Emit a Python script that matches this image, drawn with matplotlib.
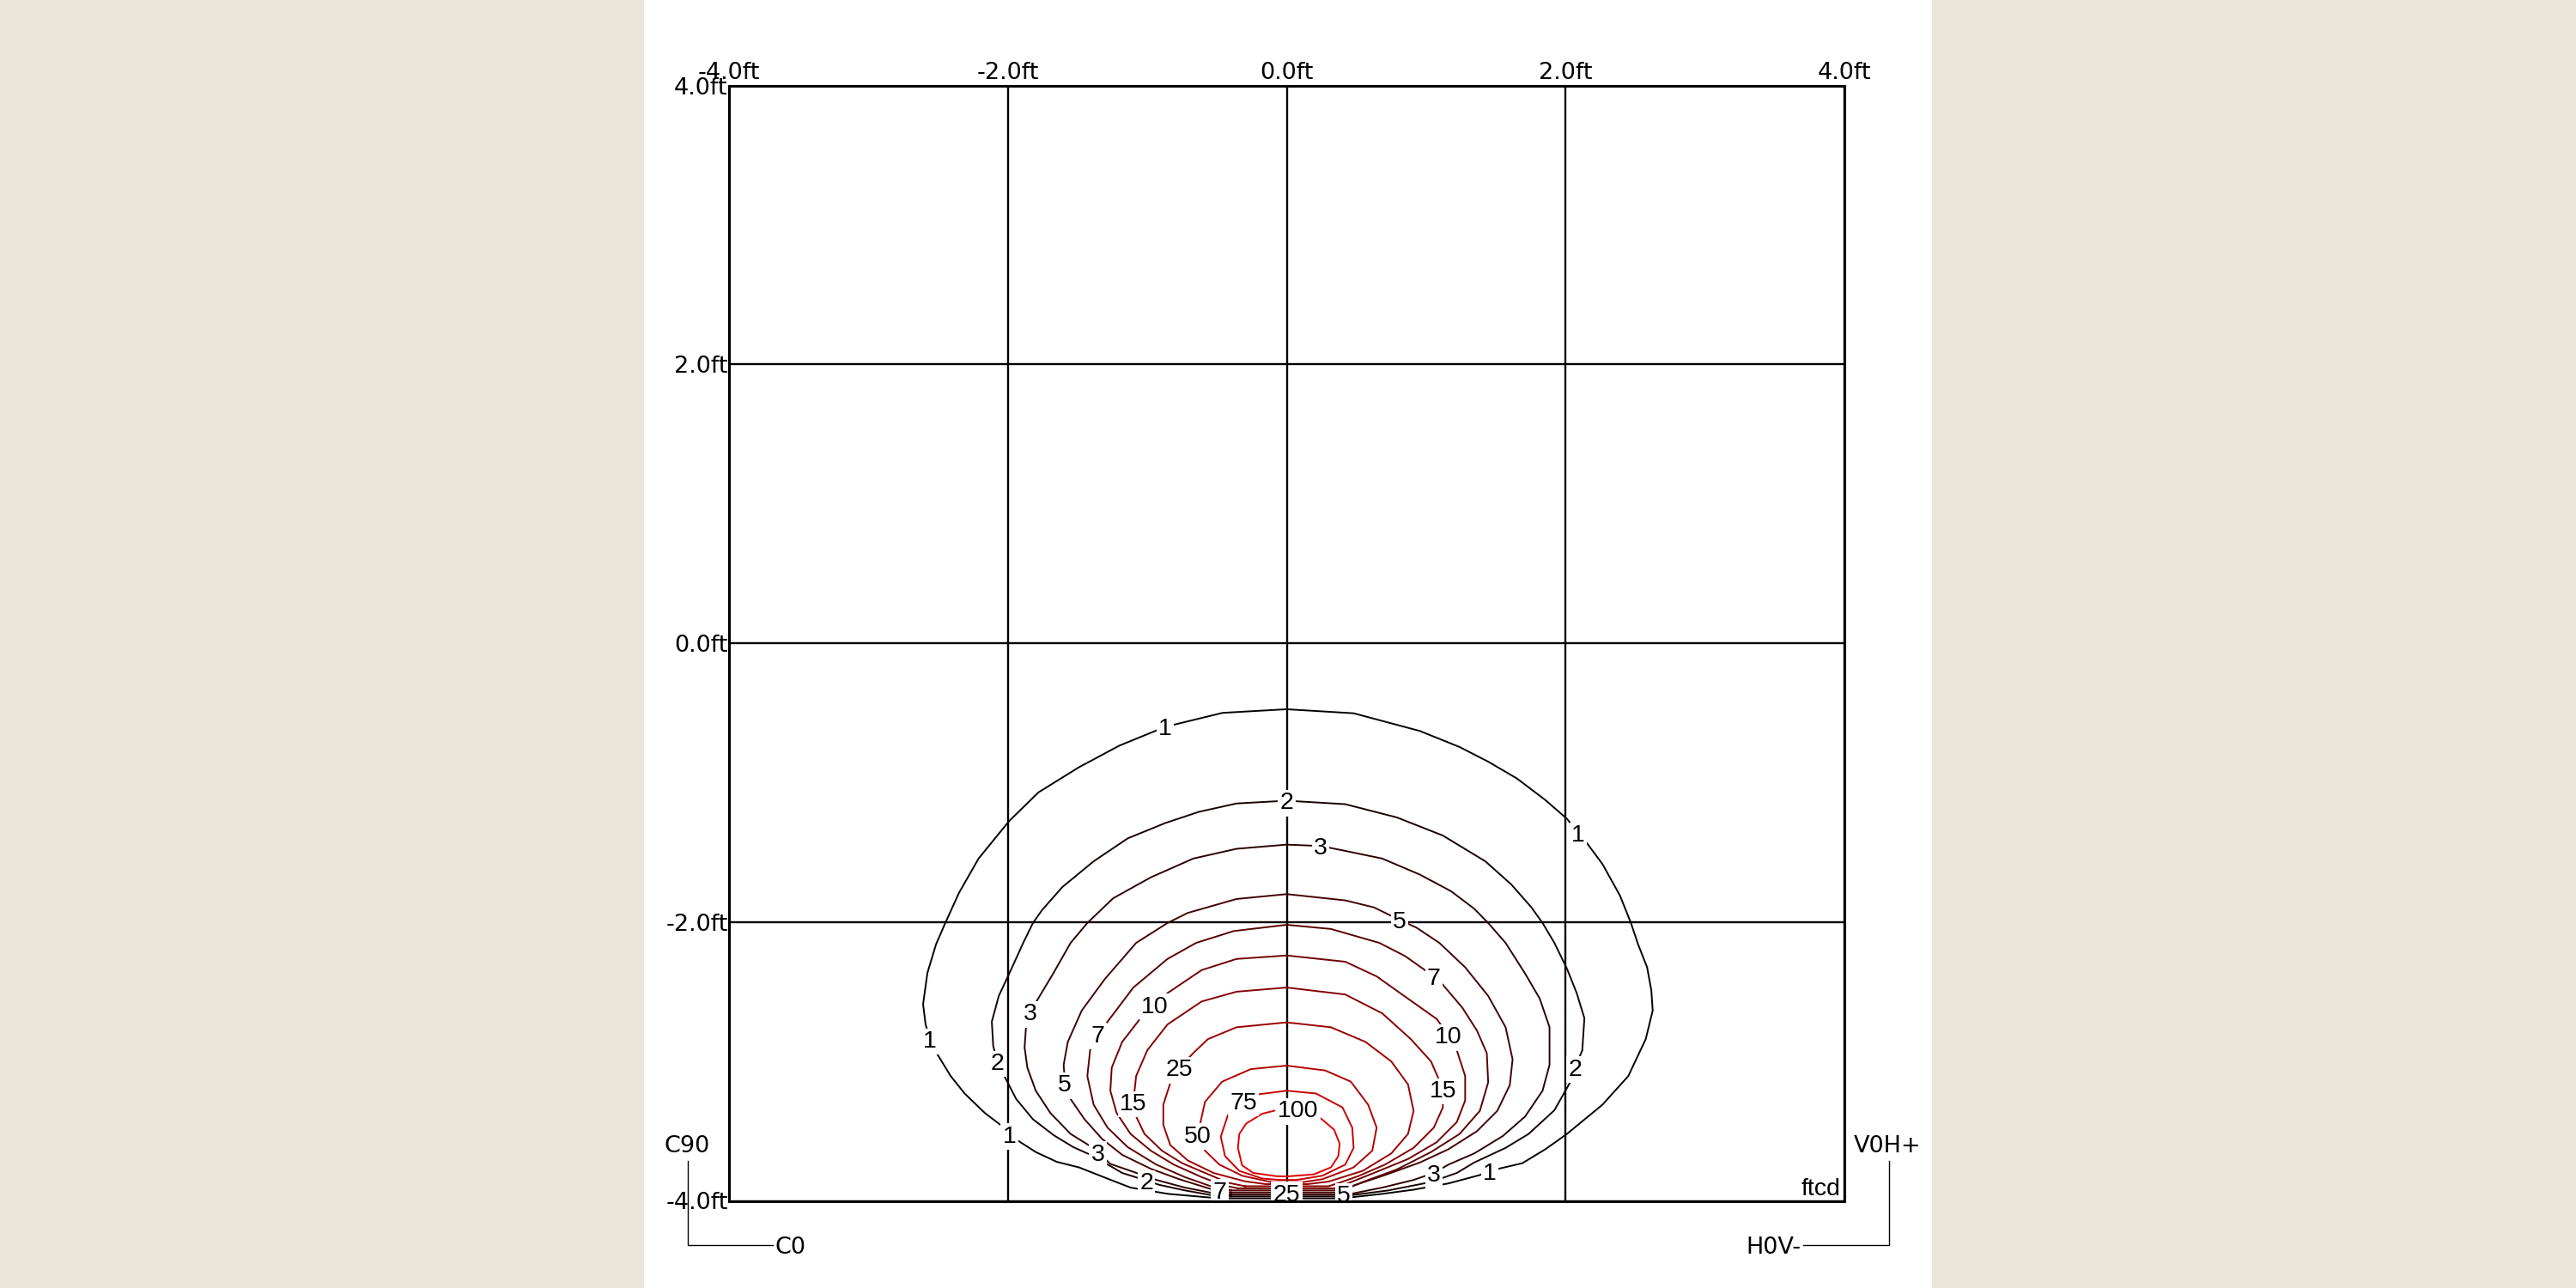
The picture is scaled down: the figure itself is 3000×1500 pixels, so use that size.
import numpy as np
import matplotlib
matplotlib.use("Agg")
import matplotlib.pyplot as plt
from matplotlib.patches import Rectangle

plt.rcParams['font.family'] = ['Liberation Sans', 'DejaVu Sans']
WIDE = ['DejaVu Sans']

# ---------------- data (feet) ----------------
levels = [1, 2, 3, 5, 7, 10, 15, 25, 50, 75, 100]
tick_values = [-4.0, -2.0, 0.0, 2.0, 4.0]
tick_labels = ["-4.0ft", "-2.0ft", "0.0ft", "2.0ft", "4.0ft"]

# each isoline: left branch (top -> bottom) and right branch (top -> bottom)
iso1_left = [(0, -0.474), (-0.46, -0.50), (-0.87, -0.60), (-1.20, -0.735), (-1.49, -0.89), (-1.78, -1.07),
             (-1.99, -1.275), (-2.21, -1.545), (-2.35, -1.79), (-2.45, -2.01), (-2.515, -2.16), (-2.577, -2.365),
             (-2.608, -2.59), (-2.59, -2.735), (-2.56, -2.84), (-2.505, -2.95), (-2.41, -3.105), (-2.31, -3.23),
             (-2.165, -3.37), (-2.04, -3.465), (-1.94, -3.56), (-1.80, -3.65), (-1.65, -3.72), (-1.49, -3.76),
             (-1.325, -3.825), (-1.12, -3.905), (-0.85, -3.95), (-0.565, -3.975), (-0.45, -3.982)]
iso1_right = [(0, -0.474), (0.48, -0.503), (0.955, -0.63), (1.24, -0.745), (1.445, -0.85), (1.65, -0.97),
              (1.855, -1.125), (2.01, -1.26), (2.09, -1.36), (2.15, -1.43), (2.265, -1.585), (2.39, -1.81),
              (2.47, -2.01), (2.52, -2.16), (2.585, -2.325), (2.615, -2.49), (2.625, -2.635), (2.575, -2.84),
              (2.45, -3.105), (2.265, -3.31), (2.01, -3.52), (1.855, -3.63), (1.69, -3.73), (1.455, -3.785),
              (1.385, -3.815), (1.16, -3.875), (0.91, -3.92), (0.685, -3.95), (0.46, -3.975), (0.40, -3.982)]

iso2_left = [(0, -1.13), (-0.36, -1.15), (-0.63, -1.21), (-0.87, -1.29), (-1.14, -1.40), (-1.385, -1.565),
             (-1.61, -1.75), (-1.755, -1.915), (-1.82, -2.007), (-1.89, -2.15), (-1.99, -2.37), (-2.065, -2.53),
             (-2.115, -2.715), (-2.105, -2.89), (-2.075, -3.00), (-2.02, -3.115), (-1.94, -3.27), (-1.82, -3.415),
             (-1.67, -3.53), (-1.53, -3.615), (-1.385, -3.68), (-1.18, -3.80), (-1.005, -3.855), (-0.915, -3.885),
             (-0.73, -3.925), (-0.525, -3.962), (-0.40, -3.968)]
iso2_right = [(0, -1.13), (0.42, -1.155), (0.79, -1.25), (1.12, -1.38), (1.425, -1.565), (1.61, -1.73),
              (1.755, -1.895), (1.835, -2.007), (1.92, -2.15), (2.01, -2.335), (2.08, -2.51), (2.135, -2.69),
              (2.12, -2.92), (2.07, -3.04), (2.03, -3.155), (1.92, -3.35), (1.735, -3.52), (1.57, -3.62),
              (1.345, -3.725), (1.22, -3.80), (1.035, -3.865), (0.73, -3.925), (0.46, -3.96), (0.38, -3.968)]

iso3_left = [(0, -1.445), (-0.36, -1.475), (-0.67, -1.545), (-0.975, -1.68), (-1.245, -1.83), (-1.43, -2.007),
             (-1.55, -2.15), (-1.675, -2.37), (-1.84, -2.645), (-1.87, -2.755), (-1.88, -2.90), (-1.86, -3.045),
             (-1.80, -3.21), (-1.695, -3.37), (-1.55, -3.52), (-1.405, -3.61), (-1.355, -3.65), (-1.265, -3.735),
             (-1.12, -3.785), (-0.935, -3.85), (-0.73, -3.905), (-0.525, -3.945), (-0.40, -3.955)]
iso3_right = [(0, -1.445), (0.245, -1.455), (0.42, -1.49), (0.685, -1.545), (0.955, -1.66), (1.18, -1.78),
              (1.345, -1.905), (1.445, -2.007), (1.57, -2.15), (1.71, -2.37), (1.815, -2.55), (1.885, -2.755),
              (1.885, -3.025), (1.835, -3.21), (1.71, -3.395), (1.55, -3.535), (1.345, -3.66), (1.16, -3.74),
              (1.055, -3.80), (0.91, -3.85), (0.685, -3.905), (0.46, -3.95), (0.38, -3.955)]

iso5_left = [(0, -1.80), (-0.36, -1.835), (-0.71, -1.935), (-0.855, -2.007), (-1.08, -2.15), (-1.305, -2.41),
             (-1.47, -2.635), (-1.57, -2.86), (-1.60, -3.025), (-1.59, -3.155), (-1.55, -3.27), (-1.45, -3.415),
             (-1.325, -3.555), (-1.18, -3.67), (-0.975, -3.77), (-0.77, -3.845), (-0.545, -3.915), (-0.40, -3.94)]
iso5_right = [(0, -1.80), (0.42, -1.845), (0.625, -1.895), (0.81, -1.985), (0.93, -2.04), (1.095, -2.15),
              (1.28, -2.325), (1.445, -2.53), (1.57, -2.755), (1.62, -2.985), (1.60, -3.17), (1.51, -3.355),
              (1.365, -3.50), (1.16, -3.63), (0.955, -3.725), (0.705, -3.815), (0.48, -3.89), (0.38, -3.94)]

iso7_left = [(0, -2.02), (-0.38, -2.065), (-0.65, -2.15), (-0.855, -2.265), (-1.10, -2.47), (-1.285, -2.715),
             (-1.355, -2.80), (-1.41, -2.92), (-1.43, -3.105), (-1.385, -3.31), (-1.285, -3.475), (-1.14, -3.615),
             (-0.935, -3.74), (-0.73, -3.83), (-0.545, -3.895), (-0.40, -3.925)]
iso7_right = [(0, -2.02), (0.317, -2.05), (0.665, -2.15), (0.85, -2.245), (1.055, -2.39), (1.12, -2.45),
              (1.26, -2.615), (1.365, -2.78), (1.435, -2.94), (1.445, -3.15), (1.385, -3.355), (1.24, -3.52),
              (1.035, -3.65), (0.79, -3.775), (0.545, -3.865), (0.40, -3.925)]

iso10_left = [(0, -2.24), (-0.36, -2.265), (-0.61, -2.345), (-0.855, -2.51), (-0.945, -2.59), (-1.06, -2.705),
              (-1.18, -2.86), (-1.255, -3.045), (-1.265, -3.21), (-1.22, -3.37), (-1.12, -3.52), (-0.975, -3.64),
              (-0.81, -3.74), (-0.61, -3.83), (-0.45, -3.89), (-0.35, -3.91)]
iso10_right = [(0, -2.24), (0.42, -2.285), (0.645, -2.39), (0.87, -2.55), (1.075, -2.695), (1.16, -2.81),
               (1.22, -2.92), (1.28, -3.105), (1.28, -3.28), (1.22, -3.435), (1.075, -3.58), (0.87, -3.70),
               (0.625, -3.80), (0.45, -3.87), (0.35, -3.91)]

iso15_left = [(0, -2.47), (-0.36, -2.50), (-0.61, -2.57), (-0.855, -2.735), (-1.00, -2.92), (-1.08, -3.105),
              (-1.10, -3.29), (-1.08, -3.395), (-1.02, -3.52), (-0.895, -3.64), (-0.75, -3.73), (-0.585, -3.80),
              (-0.42, -3.87), (-0.30, -3.895)]
iso15_right = [(0, -2.47), (0.42, -2.52), (0.685, -2.655), (0.89, -2.84), (1.035, -3.00), (1.12, -3.195),
               (1.12, -3.33), (1.055, -3.475), (0.91, -3.62), (0.705, -3.74), (0.52, -3.82), (0.38, -3.87),
               (0.30, -3.895)]

iso25_left = [(0, -2.72), (-0.36, -2.755), (-0.565, -2.84), (-0.67, -2.94), (-0.77, -3.045), (-0.835, -3.155),
              (-0.885, -3.31), (-0.885, -3.455), (-0.835, -3.60), (-0.71, -3.71), (-0.525, -3.80), (-0.30, -3.86),
              (-0.15, -3.88)]
iso25_right = [(0, -2.72), (0.317, -2.755), (0.565, -2.86), (0.75, -3.00), (0.87, -3.165), (0.91, -3.355),
               (0.87, -3.52), (0.75, -3.66), (0.545, -3.785), (0.30, -3.862), (0.15, -3.88)]

iso50_left = [(0, -3.03), (-0.257, -3.055), (-0.463, -3.145), (-0.586, -3.29), (-0.637, -3.52), (-0.586, -3.64),
              (-0.483, -3.74), (-0.319, -3.82), (-0.114, -3.865)]
iso50_right = [(0, -3.03), (0.276, -3.065), (0.46, -3.145), (0.584, -3.31), (0.645, -3.475), (0.614, -3.64),
               (0.48, -3.76), (0.255, -3.845), (0.12, -3.865)]

iso75_left = [(0, -3.21), (-0.196, -3.235), (-0.309, -3.28), (-0.422, -3.385), (-0.473, -3.54), (-0.442, -3.68),
              (-0.34, -3.785), (-0.175, -3.84), (-0.05, -3.85)]
iso75_right = [(0, -3.21), (0.21, -3.23), (0.40, -3.33), (0.47, -3.475), (0.48, -3.62), (0.42, -3.74),
               (0.255, -3.82), (0.07, -3.85)]

iso100_left = [(0.08, -3.335), (-0.075, -3.35), (-0.175, -3.375), (-0.29, -3.445), (-0.34, -3.52), (-0.35, -3.62),
               (-0.32, -3.745), (-0.24, -3.80), (-0.075, -3.823), (0, -3.825)]
iso100_right = [(0.08, -3.335), (0.235, -3.40), (0.34, -3.49), (0.38, -3.59), (0.37, -3.68), (0.317, -3.76),
                (0.195, -3.81), (0, -3.825)]

# label anchors on each isoline
labels1 = [(-0.87, -0.60), (2.09, -1.36), (-2.56, -2.84), (-1.99, -3.52), (1.455, -3.785)]
labels2 = [(0.0, -1.13), (-2.075, -3.00), (2.07, -3.04), (-1.005, -3.855)]
labels3 = [(0.245, -1.455), (-1.84, -2.645), (-1.355, -3.65), (1.055, -3.80)]
labels5 = [(0.81, -1.985), (-1.59, -3.155), (0.41, -3.95)]
labels7 = [(1.055, -2.39), (-1.355, -2.80), (-0.48, -3.92)]
labels10 = [(-0.945, -2.59), (1.16, -2.81)]
labels15 = [(-1.10, -3.29), (1.12, -3.195)]
labels25 = [(-0.77, -3.045), (0.0, -3.94)]
labels50 = [(-0.637, -3.52)]
labels75 = [(-0.309, -3.28)]
labels100 = [(0.08, -3.34)]

lefts = [iso1_left, iso2_left, iso3_left, iso5_left, iso7_left, iso10_left, iso15_left,
         iso25_left, iso50_left, iso75_left, iso100_left]
rights = [iso1_right, iso2_right, iso3_right, iso5_right, iso7_right, iso10_right, iso15_right,
          iso25_right, iso50_right, iso75_right, iso100_right]
label_sets = [labels1, labels2, labels3, labels5, labels7, labels10, labels15,
              labels25, labels50, labels75, labels100]

# ---------------- figure ----------------
BG = '#EBE7D8'
fig = plt.figure(figsize=(30, 15), dpi=100, facecolor=BG)
fig.patches.append(Rectangle((0.25, 0.0), 0.5, 1.0, transform=fig.transFigure,
                             facecolor='white', edgecolor='none', zorder=-10))
ax = fig.add_axes([849 / 3000, 101.5 / 1500, 1299 / 3000, 1299 / 1500])
ax.set_zorder(2)
ax.set_facecolor('white')
ax.set_xlim(-4, 4)
ax.set_ylim(-4, 4)

ax.set_xticks(tick_values)
ax.set_xticklabels(tick_labels, family=WIDE)
ax.set_yticks(tick_values)
ax.set_yticklabels(tick_labels, family=WIDE)
ax.xaxis.tick_top()
ax.tick_params(axis='both', length=0, labelsize=19.5, colors='black')
ax.tick_params(axis='x', pad=1)
ax.tick_params(axis='y', pad=1)
ax.grid(True, color='black', linewidth=1.7)
ax.set_axisbelow(True)
for s in ax.spines.values():
    s.set_linewidth(2.2)
    s.set_color('black')
    s.set_zorder(6)

n = len(levels)
for i, (lev, L, R, labs) in enumerate(zip(levels, lefts, rights, label_sets)):
    red = (i / (n - 1)) * 0.87
    col = (red, 0.0, 0.0)
    L = np.array(L)
    R = np.array(R)
    path = np.vstack([L[::-1], R, L[-1:]])
    ax.plot(path[:, 0], path[:, 1], color=col, linewidth=1.4, zorder=3,
            solid_joinstyle='round')
    for (lx, ly) in labs:
        ax.text(lx, ly, str(lev), ha='center', va='center_baseline', fontsize=20.5,
                color='black', zorder=5,
                bbox=dict(boxstyle='square,pad=0.08', facecolor='white', edgecolor='none'))

# corner annotations
ax.plot([-4.297, -4.297, -3.685], [-3.711, -4.317, -4.317], color='black', lw=1.0, clip_on=False)
ax.text(-4.30, -3.59, "C90", ha='center', va='center_baseline', fontsize=19.5, family=WIDE)
ax.text(-3.673, -4.317, "C0", ha='left', va='center_baseline', fontsize=19.5, family=WIDE)
ax.plot([4.32, 4.32, 3.704], [-3.711, -4.317, -4.317], color='black', lw=1.0, clip_on=False)
ax.text(4.31, -3.59, "V0H+", ha='center', va='center_baseline', fontsize=19.5, family=WIDE)
ax.text(3.69, -4.317, "H0V-", ha='right', va='center_baseline', fontsize=19.5, family=WIDE)
ax.text(3.97, -3.96, "ftcd", ha='right', va='baseline', fontsize=20.5, zorder=5)

fig.savefig("out.png", dpi=100, facecolor=BG)
